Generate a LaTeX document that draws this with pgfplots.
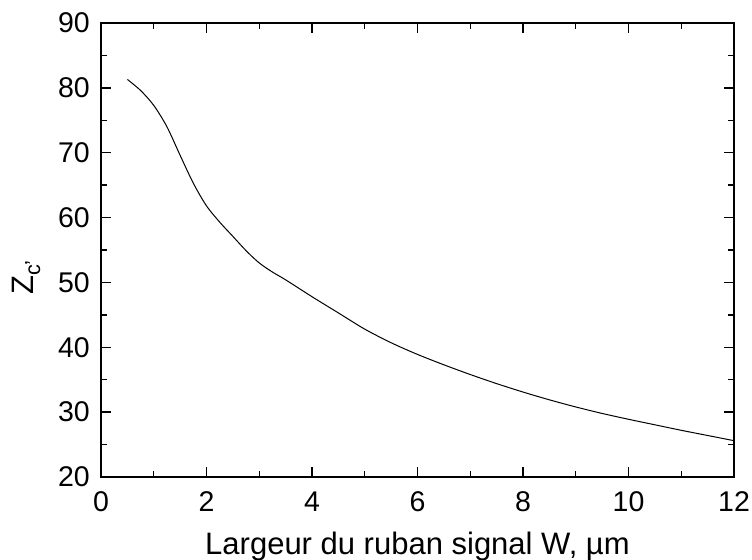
\documentclass[border=0pt]{standalone}
\usepackage{fontspec}
\setmainfont{Liberation Sans}
\usepackage{pgfplots}
\pgfplotsset{compat=1.18}
\begin{document}
\begin{tikzpicture}
\begin{axis}[
  name=ax,
  scale only axis,
  width=633bp, height=454bp,
  xmin=0, xmax=12, ymin=20, ymax=90,
  xtick={0,2,...,12}, ytick={20,30,...,90},
  minor tick num=1,
  tick align=inside,
  xtick pos=both, ytick pos=both,
  major tick length=10bp, minor tick length=6bp,
  every tick/.style={black, line width=1.3pt},
  axis line style={line width=1.5pt},
  /pgf/number format/assume math mode=true,
  tick label style={font=\fontsize{28.5bp}{33bp}\selectfont},
  xticklabel style={anchor=north, inner sep=0pt, yshift=-14.5bp},
  yticklabel style={anchor=east, inner sep=0pt, xshift=-11bp},
  label style={font=\fontsize{31bp}{36bp}\selectfont},
  xlabel={Largeur du ruban signal W, µm},
  ylabel={Z\textsubscript{c’}},
  xlabel style={at={(axis description cs:0.5,-0.17)}, anchor=base, inner sep=0pt},
  ylabel style={at={(axis description cs:-0.118,0.44)}, anchor=center, inner sep=0pt},
]
\addplot[black, line width=1pt, smooth] coordinates {
(0.5,81.3) (0.75,79.6) (1.0,77.3) (1.25,74.0) (1.5,69.6) (1.75,65.3)
(2.0,61.8) (2.25,59.3) (2.5,57.1) (2.75,54.9) (3.0,53.0) (3.25,51.6)
(3.5,50.4) (4.0,47.8) (4.5,45.3) (5.0,42.8) (5.5,40.7) (6.0,38.9)
(6.5,37.3) (7.0,35.8) (7.5,34.4) (8.0,33.1) (8.5,31.9) (9.0,30.8)
(9.5,29.8) (10.0,28.9) (10.5,28.05) (11.0,27.2) (11.5,26.4) (12.0,25.6)
};
\end{axis}
\pgfresetboundingbox
\path (ax.south west) ++(-101bp,-83bp) rectangle ++(752bp,560bp);
\end{tikzpicture}
\end{document}
